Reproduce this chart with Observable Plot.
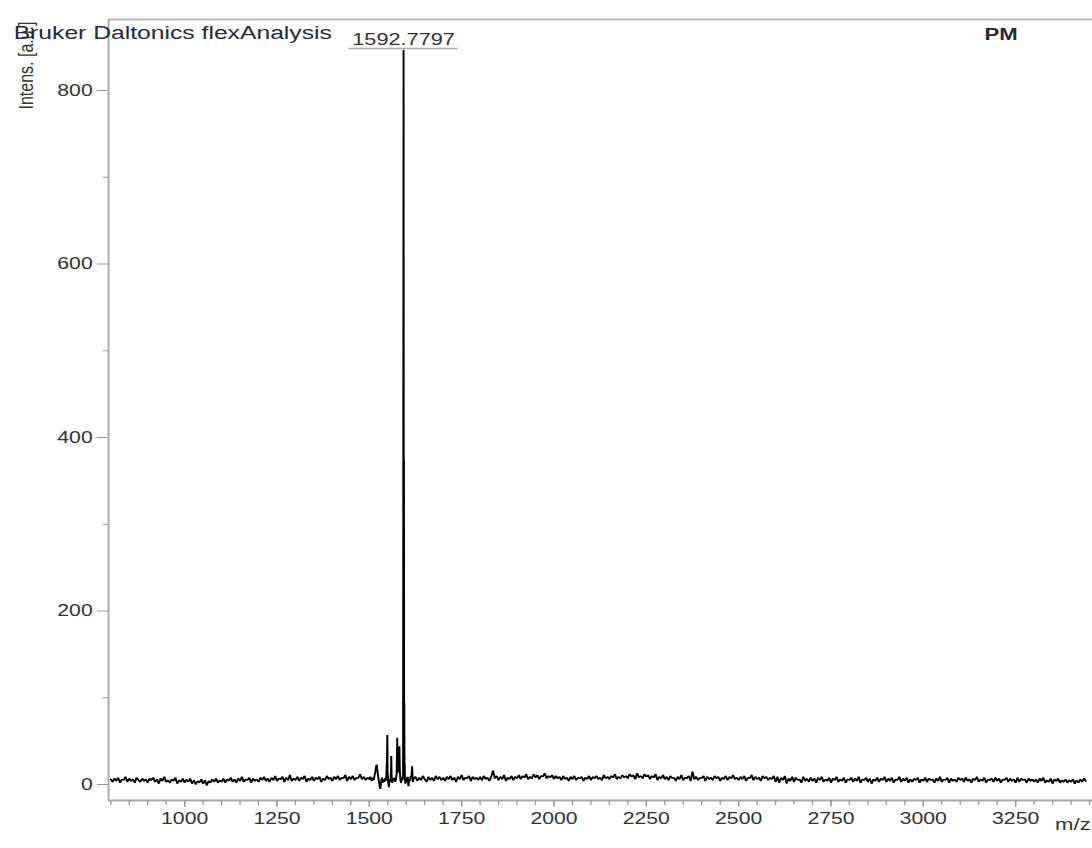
<!DOCTYPE html>
<html>
<head>
<meta charset="utf-8">
<script src="https://cdn.jsdelivr.net/npm/d3@7"></script>
<script src="https://cdn.jsdelivr.net/npm/@observablehq/plot@0.6"></script>
<style>
  html, body { margin: 0; padding: 0; background: #fff; }
  #chart { width: 1092px; height: 848px; overflow: hidden; }
</style>
</head>
<body>
<div id="chart"></div>
<script>
// MALDI-TOF mass spectrum (flexAnalysis export), intensity vs m/z

const titleText = "Bruker Daltonics flexAnalysis";
const sampleName = "PM";
const xTitle = "m/z";
const yTitle = "Intens. [a.u.]";

// Axis ticks
const xMajorTicks = [1000, 1250, 1500, 1750, 2000, 2250, 2500, 2750, 3000, 3250];
const xMinorTicks = d3.range(800, 3451, 50);
const yMajorTicks = [0, 200, 400, 600, 800];
const yMinorTicks = [100, 300, 500, 700];

// Labelled monoisotopic peak
const mainPeakMz = 1592.7797;
const mainPeakIntensity = 847;

// Baseline 800–1495 m/z, sampled every 5 m/z
const baselineStep = 5;
const baselineLowStart = 800;
const baselineLow = [
  6,3,7,4,8,2,6,5,9,3,7,4,6,2,8,5,3,7,4,6,
  2,7,5,8,3,6,1,7,4,9,3,5,2,6,4,8,1,5,3,7,
  2,6,3,7,1,5,0,4,2,6,1,5,-1,4,2,6,3,7,2,5,
  3,7,2,6,4,8,3,6,2,7,4,9,3,6,5,8,2,7,4,6,
  3,8,5,9,4,7,3,8,5,10,4,7,6,9,3,8,5,11,4,7,
  5,9,4,8,6,10,3,7,5,9,4,8,6,9,3,7,5,10,6,8,
  4,9,6,10,5,8,7,11,4,9,6,10,5,8,7,12,6,9,5,8
];

// Peak cluster 1500–1620 m/z (apart from the labelled peak)
const clusterMz = [
  1500,1503,1506,1509,1512,1514,1516,1518,1520,1522,1524,1526,1528,1530,1532,1534,1536,1538,1540,1542,
  1544,1546,1548,1548.8,1549.6,1551,1553,1555,1557,1558.8,1559.5,1560.3,1562,1564,1566,1568,1570,1572,
  1574,1575.7,1577,1578.5,1580,1581.5,1582.5,1584,1586,1588,1590,1591.5,
  1593.3,1593.78,1594.3,1594.78,1595.3,1595.78,1596.5,1598,1600,1602,1604,1606,1608,1610,1612,1614,
  1616,1617,1618,1620
];
const clusterIntensity = [
  6,9,4,8,5,10,14,20,23,16,9,4,-2,-5,3,8,2,6,3,7,
  4,9,30,57,12,4,-3,6,3,15,33,10,2,7,4,8,3,6,
  12,54,20,14,22,44,18,6,2,8,5,12,
  140,375,60,95,15,25,5,1,8,3,9,-2,6,4,10,7,
  21,8,3,7
];

// Baseline 1625–3440 m/z, sampled every 5 m/z
const baselineHighStart = 1625;
const baselineHigh = [
  9,4,8,5,10,6,3,9,5,8,4,10,6,9,5,
  8,4,9,6,10,5,8,3,9,6,11,5,8,7,10,4,9,6,8,5,
  9,5,10,6,8,4,9,16,7,10,5,9,6,11,4,8,6,10,5,9,
  7,11,6,10,8,12,6,9,7,12,8,11,6,10,9,13,7,10,8,11,
  6,10,7,9,5,10,6,8,4,9,6,10,5,8,7,9,4,8,6,10,
  5,9,7,10,6,8,5,11,7,9,6,10,8,12,6,9,7,11,8,10,
  7,12,9,11,6,13,8,10,7,12,9,11,6,10,8,12,5,9,7,11,
  6,9,5,10,7,8,4,9,6,11,5,8,7,10,4,15,6,9,5,8,
  7,10,4,9,6,8,5,10,7,9,4,8,6,10,5,9,7,11,6,8,
  5,9,6,10,4,8,7,11,5,9,6,8,4,10,7,9,5,8,6,10,
  3,9,2,8,5,10,1,7,4,9,3,8,5,6,2,9,4,7,3,8,
  4,7,2,8,5,9,3,6,4,8,2,7,5,9,3,6,4,8,2,6,
  5,8,3,7,4,9,2,6,5,8,3,7,1,6,4,8,3,7,5,9,
  3,7,4,8,2,6,5,9,3,7,4,8,2,6,3,7,5,8,2,6,
  4,8,3,7,5,6,2,7,4,9,3,6,5,8,2,7,4,6,3,8,
  5,7,3,8,4,6,2,7,5,9,3,6,4,8,2,6,5,7,3,8,
  4,7,2,6,5,8,3,7,4,6,2,8,3,7,5,6,2,7,4,6,
  3,6,2,7,4,8,2,5,3,7,1,6,4,7,2,5,3,6,2,5,
  3,6,1,5,2,6,3,7,4
];

const mainPeak = {mz: mainPeakMz, intensity: mainPeakIntensity};
const spectrum = [
  ...baselineLow.map((v, i) => ({mz: baselineLowStart + i * baselineStep, intensity: v})),
  ...clusterMz.map((mz, i) => ({mz, intensity: clusterIntensity[i]})),
  mainPeak,
  ...baselineHigh.map((v, i) => ({mz: baselineHighStart + i * baselineStep, intensity: v}))
].sort((a, b) => a.mz - b.mz);

// Layout: drawn on a narrower canvas, then widened to the final size
const baseWidth = 840;
const outWidth = 1092;
const outHeight = 848;
const xDomain = [794, 3458.5];
const yDomain = [-18.4, 881.8];
const labelRuleY = 848.4;      // underline of the peak label, intensity units
const labelHalfSpan = 147.6;   // half-width of that underline, m/z units

const axisGray = "#9a9a9a";
const textDark = "#333";

const svg = Plot.plot({
  width: baseWidth,
  height: outHeight,
  marginLeft: 83,
  marginRight: 0,
  marginTop: 19,
  marginBottom: 48,
  x: {domain: xDomain},
  y: {domain: yDomain},
  style: {fontFamily: "'Liberation Sans', Arial, sans-serif", background: "#fff", color: textDark, overflow: "visible"},
  marks: [
    // frame lines
    Plot.ruleY([yDomain[1]], {stroke: "#bbb", strokeWidth: 2}),
    Plot.ruleX([xDomain[0]], {stroke: "#aaa", strokeWidth: 1.5}),
    Plot.ruleY([yDomain[0]], {stroke: "#aaa", strokeWidth: 2}),
    // axes
    Plot.axisY({ticks: yMinorTicks, tickSize: 4, tickFormat: () => "", stroke: axisGray, label: null}),
    Plot.axisY({ticks: yMajorTicks, tickSize: 8.5, tickPadding: 3.7, tickFormat: d3.format("d"),
      fontSize: 16.3, stroke: axisGray, fill: textDark, label: null}),
    Plot.axisX({ticks: xMinorTicks, tickSize: 5, tickFormat: () => "", stroke: axisGray, label: null}),
    Plot.axisX({ticks: xMajorTicks, tickSize: 7, tickPadding: 5, tickFormat: d3.format("d"),
      fontSize: 16.3, stroke: axisGray, fill: textDark, label: null}),
    // spectrum
    Plot.line(spectrum, {x: "mz", y: "intensity", stroke: "#000", strokeWidth: 1.5, strokeLinejoin: "miter"}),
    // peak annotation
    Plot.ruleY([mainPeak], {y: () => labelRuleY, x1: d => d.mz - labelHalfSpan, x2: d => d.mz + labelHalfSpan,
      stroke: "#aaa", strokeWidth: 1.5}),
    Plot.text([mainPeak], {x: "mz", text: d => d.mz.toFixed(4), frameAnchor: "top", dy: 14,
      fontSize: 16.7, fill: textDark}),
    // axis titles
    Plot.text([yTitle], {text: d => d, frameAnchor: "top-left", rotate: -90, textAnchor: "end",
      dx: -69.5, dy: 2, fontSize: 16, fill: textDark}),
    Plot.text([xTitle], {text: d => d, frameAnchor: "bottom-right", textAnchor: "end",
      dx: -1.5, dy: 29.6, fontSize: 17, fill: textDark}),
    // header
    Plot.text([titleText], {text: d => d, frameAnchor: "top-left", textAnchor: "start",
      dx: -73, dy: 6, fontSize: 19, fill: "#262a3a"}),
    Plot.text([sampleName], {text: d => d, frameAnchor: "top-right", textAnchor: "middle",
      dx: -70.4, dy: 8.6, fontSize: 17, fontWeight: 700, fill: "#262a3a"})
  ]
});

// widen the drawing horizontally to the output size
svg.setAttribute("width", outWidth);
svg.setAttribute("height", outHeight);
svg.setAttribute("preserveAspectRatio", "none");
svg.style.width = outWidth + "px";
svg.style.height = outHeight + "px";
svg.style.maxWidth = "none";

document.getElementById("chart").appendChild(svg);
</script>
</body>
</html>
